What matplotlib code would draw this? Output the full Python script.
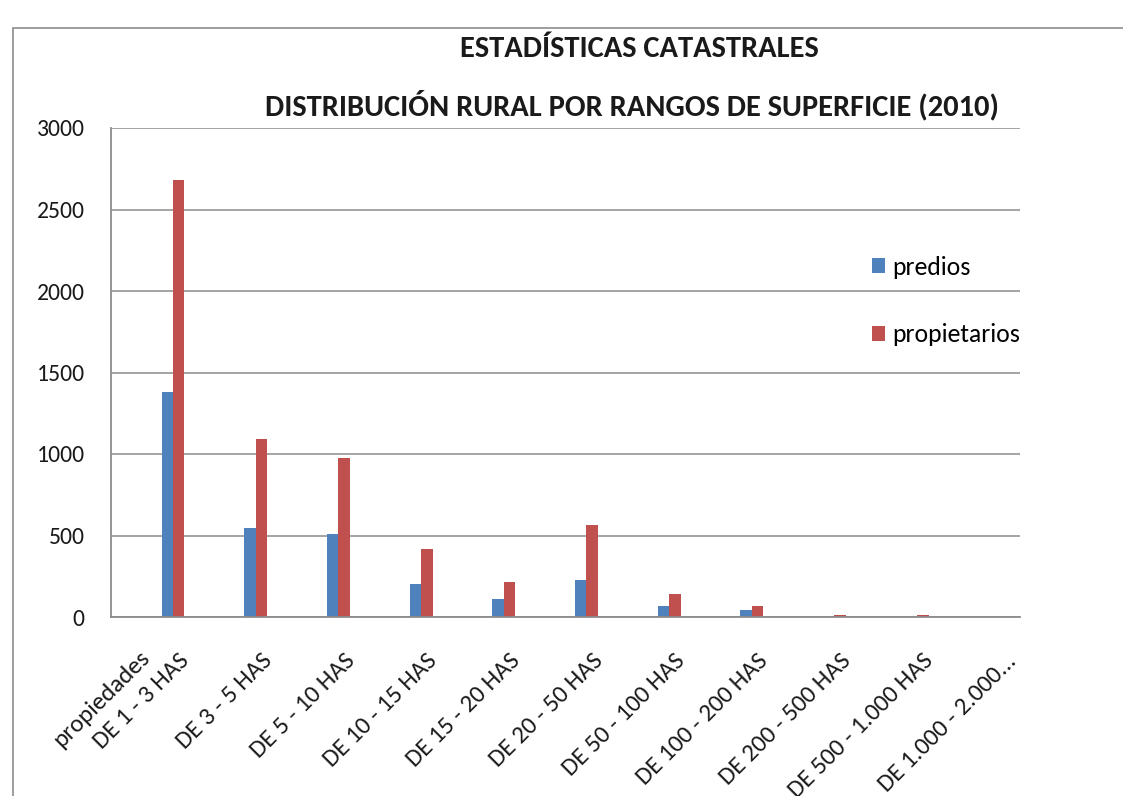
import matplotlib
matplotlib.use("Agg")
import matplotlib.pyplot as plt
from matplotlib.patches import Rectangle, Patch
from matplotlib.transforms import ScaledTranslation
import numpy as np

plt.rcParams['font.family'] = ['Carlito', 'Lato', 'DejaVu Sans']

categories = ["propiedades\nDE 1 - 3 HAS", "DE 3 - 5 HAS", "DE 5 - 10 HAS", "DE 10 - 15 HAS",
              "DE 15 - 20 HAS", "DE 20 - 50 HAS", "DE 50 - 100 HAS", "DE 100 - 200 HAS",
              "DE 200 - 500 HAS", "DE 500 - 1.000 HAS", "DE 1.000 - 2.000..."]
predios = [1380, 545, 510, 205, 110, 225, 70, 45, 0, 0, 0]
propietarios = [2680, 1090, 975, 415, 215, 565, 140, 70, 15, 15, 0]
series_names = ["predios", "propietarios"]
yticks = [0, 500, 1000, 1500, 2000, 2500, 3000]
title1 = "ESTADÍSTICAS CATASTRALES"
title2 = "DISTRIBUCIÓN RURAL POR RANGOS DE SUPERFICIE (2010)"

W, H = 1123, 796
fig = plt.figure(figsize=(W / 100, H / 100), dpi=100)
ax = fig.add_axes([111 / W, 1 - 617 / H, (1020 - 111) / W, (617 - 128) / H])

blue = '#4F81BD'
red = '#C0504D'
grid_c = '#8C8C8C'
txt_c = '#1a1a1a'
xfs = 18
xpad = 34.5

x = np.arange(len(categories))
bw = 0.139
ax.bar(x - bw / 2, predios, width=bw, color=blue, label=series_names[0], zorder=3)
ax.bar(x + bw / 2, propietarios, width=bw, color=red, label=series_names[1], zorder=3)

ax.set_xlim(-0.75, 10.24)
ax.set_ylim(0, 3000)
ax.set_yticks(yticks)
ax.set_yticklabels([str(v) for v in yticks], fontsize=17, color=txt_c)
ax.yaxis.grid(True, color=grid_c, linewidth=1.1, zorder=0)
ax.set_axisbelow(True)
ax.tick_params(axis='both', length=0)
ax.tick_params(axis='y', pad=19)

# main tick label = last line; extra upper lines drawn shifted left like the reference
main_labels = [c.split("\n")[-1] for c in categories]
tick_pos = x + 0.245
ax.set_xticks(tick_pos)
ax.set_xticklabels(main_labels, fontsize=xfs, rotation=45, ha='right', va='bottom',
                   rotation_mode='anchor', color=txt_c)
ax.tick_params(axis='x', pad=xpad)
for xi, c in zip(tick_pos, categories):
    parts = c.split("\n")
    for j, extra in enumerate(parts[:-1][::-1]):
        tr = ax.get_xaxis_transform() + ScaledTranslation(-0.40 * (j + 1), -xpad / 72 + 0.03,
                                                          fig.dpi_scale_trans)
        ax.text(xi, 0, extra, transform=tr, fontsize=xfs, rotation=45, ha='right',
                va='bottom', rotation_mode='anchor', color=txt_c, clip_on=False)

for s in ['top', 'right']:
    ax.spines[s].set_visible(False)
for s in ['left', 'bottom']:
    ax.spines[s].set_color(grid_c)
    ax.spines[s].set_linewidth(1.3)
    ax.spines[s].set_zorder(4)

handles = [Patch(facecolor=blue), Patch(facecolor=red)]
fig.legend(handles, series_names, loc='center left', bbox_to_anchor=(872 / W, 1 - 301 / H),
           frameon=False, fontsize=18.5, handlelength=0.5, handleheight=0.5,
           handletextpad=0.3, labelspacing=1.75, borderpad=0, borderaxespad=0)

fig.text(639 / W, 1 - 49 / H, title1, ha='center', va='center', fontsize=22,
         fontweight='bold', color=txt_c)
fig.text(632 / W, 1 - 105 / H, title2, ha='center', va='center', fontsize=22,
         fontweight='bold', color=txt_c)

fig.patches.append(Rectangle((13 / W, -0.05), 1.5, (1 - 28 / H) + 0.05,
                             transform=fig.transFigure, fill=False,
                             edgecolor='#8C8C8C', linewidth=1.2))

fig.savefig('out.png', dpi=100)
